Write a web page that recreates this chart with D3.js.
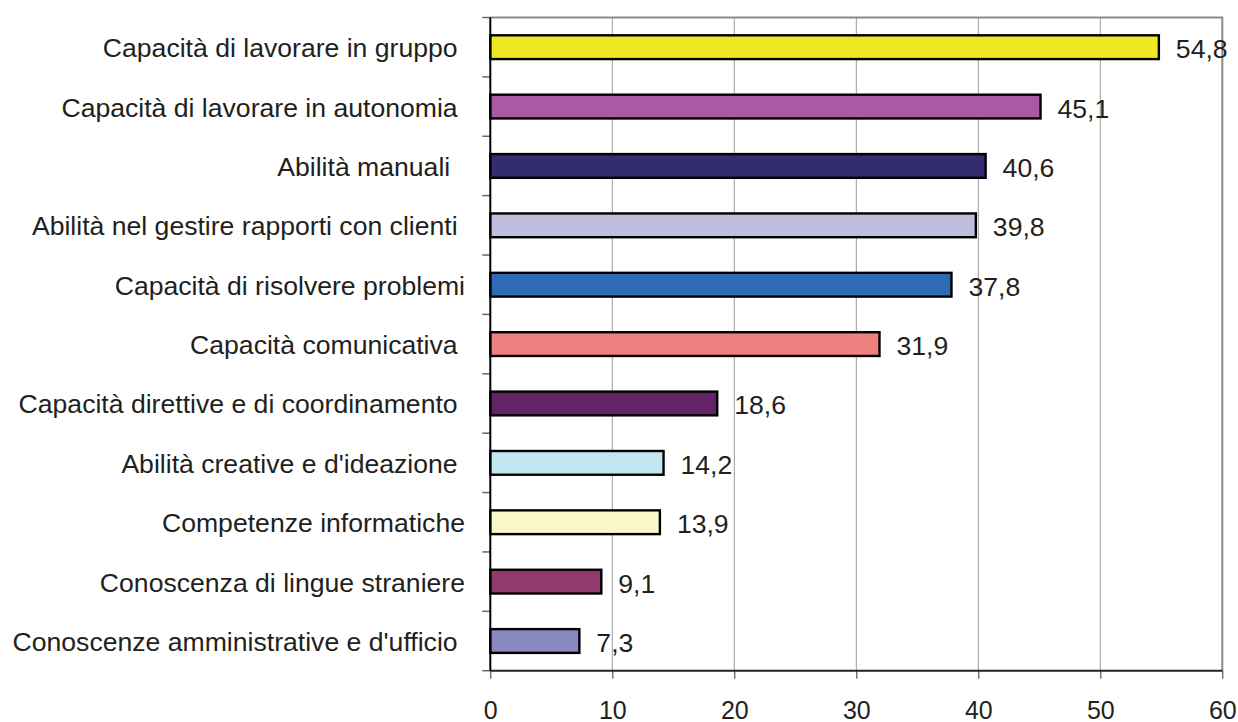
<!DOCTYPE html>
<html>
<head>
<meta charset="utf-8">
<script src="https://cdn.jsdelivr.net/npm/d3@7"></script>
<style>
  html, body { margin: 0; padding: 0; background: #fff; }
  svg { display: block; }
  text { font-family: "Liberation Sans", Arial, Helvetica, sans-serif; fill: #231f20; white-space: pre; }
</style>
</head>
<body>
<svg id="chart" width="1238" height="722"></svg>
<script>
const categories = [
  "Capacità di lavorare in gruppo ",
  "Capacità di lavorare in autonomia ",
  "Abilità manuali  ",
  "Abilità nel gestire rapporti con clienti ",
  "Capacità di risolvere problemi",
  "Capacità comunicativa ",
  "Capacità direttive e di coordinamento ",
  "Abilità creative e d'ideazione ",
  "Competenze informatiche",
  "Conoscenza di lingue straniere",
  "Conoscenze amministrative e d'ufficio "
];
const values = [54.8, 45.1, 40.6, 39.8, 37.8, 31.9, 18.6, 14.2, 13.9, 9.1, 7.3];
const colors = ["#eee824", "#aa5aa5", "#332c6e", "#c0bede", "#2e6bb4", "#f07f80",
                "#632467", "#c2e6ef", "#f8f7c8", "#923a6c", "#8889c2"];
const xTicks = [0, 10, 20, 30, 40, 50, 60];

const svg = d3.select("#chart");
const mLeft = 490.3, mRight = 1222.3, mTop = 17.5, mBottom = 670.7;

const x = d3.scaleLinear().domain([0, 60]).range([mLeft, mRight]);
const y = d3.scaleBand().domain(categories).range([mTop, mBottom])
  .paddingInner(0.6).paddingOuter(0.3);
const itFmt = d3.formatLocale({decimal: ",", thousands: ".", grouping: [3], currency: ["€", ""]}).format(".1f");

// gridlines
svg.append("g").selectAll("line").data(xTicks.filter(t => t > 0 && t < 60)).join("line")
  .attr("x1", d => x(d)).attr("x2", d => x(d))
  .attr("y1", mTop).attr("y2", mBottom)
  .attr("stroke", "#9a9a9a").attr("stroke-width", 1);

// frame top & right
svg.append("path")
  .attr("d", `M${mLeft},${mTop}H${mRight}V${mBottom}`)
  .attr("fill", "none").attr("stroke", "#8a8a8a").attr("stroke-width", 2);

// y ticks (category boundaries)
const step = y.step();
const bounds = d3.range(categories.length + 1).map(i => mTop + i * step);
svg.append("g").selectAll("line").data(bounds).join("line")
  .attr("x1", mLeft - 8).attr("x2", mLeft)
  .attr("y1", d => d).attr("y2", d => d)
  .attr("stroke", "#666").attr("stroke-width", 1.5);

// x axis
const xAxis = d3.axisBottom(x).tickValues(xTicks).tickSize(8).tickPadding(23).tickFormat(d3.format("d"));
const gx = svg.append("g").attr("transform", `translate(0,${mBottom})`).call(xAxis);
gx.select(".domain").remove();
gx.selectAll(".tick line").attr("stroke", "#333").attr("stroke-width", 1);
gx.selectAll(".tick text").attr("font-size", 25).attr("fill", "#231f20")
  .attr("font-family", '"Liberation Sans", Arial, sans-serif');

// bottom axis line
svg.append("line").attr("x1", mLeft).attr("x2", mRight).attr("y1", mBottom).attr("y2", mBottom)
  .attr("stroke", "#222").attr("stroke-width", 2);

// bars
svg.append("g").selectAll("rect").data(values).join("rect")
  .attr("x", x(0))
  .attr("y", (d, i) => y(categories[i]))
  .attr("width", d => x(d) - x(0))
  .attr("height", y.bandwidth())
  .attr("fill", (d, i) => colors[i])
  .attr("stroke", "#000").attr("stroke-width", 2.4);

// left axis line
svg.append("line").attr("x1", mLeft).attr("x2", mLeft).attr("y1", mTop).attr("y2", mBottom)
  .attr("stroke", "#000").attr("stroke-width", 2);

// category labels
svg.append("g").selectAll("text").data(categories).join("text")
  .attr("x", 465)
  .attr("y", d => y(d) + y.bandwidth() / 2 + 10)
  .attr("text-anchor", "end")
  .attr("font-size", 26.6)
  .text(d => d);

// value labels
svg.append("g").selectAll("text").data(values).join("text")
  .attr("x", d => x(d) + 17)
  .attr("y", (d, i) => y(categories[i]) + y.bandwidth() / 2 + 11)
  .attr("font-size", 26.6)
  .text(d => itFmt(d));
</script>
</body>
</html>
